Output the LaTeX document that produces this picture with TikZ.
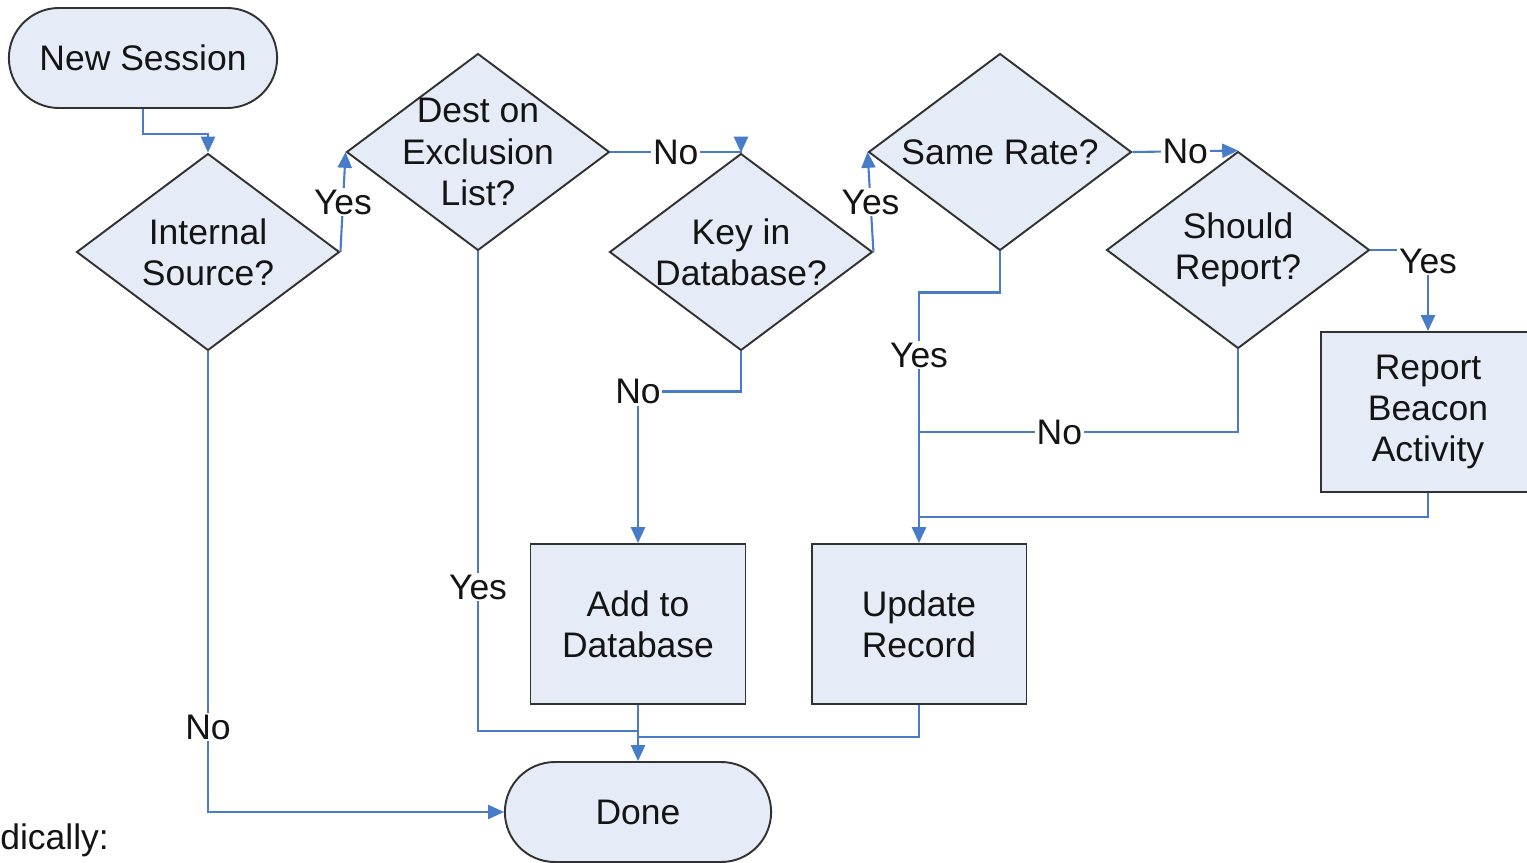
\documentclass[tikz,border=0pt]{standalone}
\usepackage{fontspec}
\setmainfont{Liberation Sans}
\usetikzlibrary{shapes.geometric,shapes.misc,arrows.meta}
\definecolor{boxfill}{RGB}{230,236,247}
\definecolor{conn}{RGB}{72,124,200}
\definecolor{edge}{RGB}{50,50,50}
\definecolor{txt}{RGB}{20,20,20}
\begin{document}
\begin{tikzpicture}[x=0.02cm,y=-0.02cm,
  every node/.style={font=\fontsize{20.2}{23.5}\selectfont, text=txt},
  shapebase/.style={draw=edge, line width=1.1pt, fill=boxfill},
  dia/.style={shapebase, diamond, inner sep=0pt, minimum width=5.26cm, minimum height=3.94cm},
  proc/.style={shapebase, rectangle, minimum width=4.3cm, minimum height=3.2cm, align=center},
  term/.style={shapebase, rounded rectangle, minimum height=2cm},
  line/.style={draw=conn, line width=1.2pt},
  arr/.style={line, -{Triangle[length=9pt,width=8pt]}},
  lbl/.style={fill=white, inner sep=1pt}
]
\useasboundingbox[fill=white] (0,0) rectangle (1527,862);

% terminals
\node[term, minimum width=5.6cm] (NS) at (143,58) {New Session};
\node[term, minimum width=5.56cm] (DN) at (638,812) {Done};

% decisions
\node[dia, label={[align=center]center:Internal\\Source?}] (IS) at (208,252) {};
\node[dia, label={[align=center]center:Dest on\\Exclusion\\List?}] (DE) at (478,152) {};
\node[dia, label={[align=center]center:Key in\\Database?}] (KD) at (741,252) {};
\node[dia, label={[align=center]center:Same Rate?}] (SR) at (1000,152) {};
\node[dia, label={[align=center]center:Should\\Report?}] (SH) at (1238,250) {};

% processes
\node[proc] (AD) at (638,624) {Add to\\Database};
\node[proc] (UR) at (919,624) {Update\\Record};
\node[proc] (RB) at (1428,412) {Report\\Beacon\\Activity};

% fragment text
\node[anchor=base west, inner sep=0pt] (frag) at (0,849) {dically:};

% junction coordinates
\coordinate (J1) at (638,731);
\coordinate (J2) at (638,737);
\coordinate (M9) at (919,432);
\coordinate (M11) at (919,517);

% connectors
\draw[arr] (NS.south) -- ++(0,25) -| (IS.north);
\draw[arr] (IS.east) -- node[lbl]{Yes} (DE.west);
\draw[arr] (DE.east) -| node[lbl,pos=0.25]{No} (KD.north);
\draw[line] (DE.south) -- node[lbl,pos=0.7]{Yes} (DE.south |- J1) -- (J1);
\draw[arr] (KD.east) -- node[lbl]{Yes} (SR.west);
\draw[arr] (KD.south) -- ++(0,40) -| node[lbl,pos=0.5]{No} (AD.north);
\draw[arr] (SR.east) -- node[lbl]{No} (SH.north);
\draw[arr] (SR.south) -- ++(0,41) -| node[lbl,pos=0.625]{Yes} (UR.north);
\draw[line] (SH.south) |- node[lbl,pos=0.78]{No} (M9);
\draw[arr] (SH.east) -| node[lbl,pos=0.57]{Yes} (RB.north);
\draw[line] (RB.south) |- (M11);
\draw[arr] (AD.south) -- (DN.north);
\draw[line] (UR.south) |- (J2);
\draw[arr] (IS.south) |- node[lbl,pos=0.408]{No} (DN.west);
\end{tikzpicture}
\end{document}
